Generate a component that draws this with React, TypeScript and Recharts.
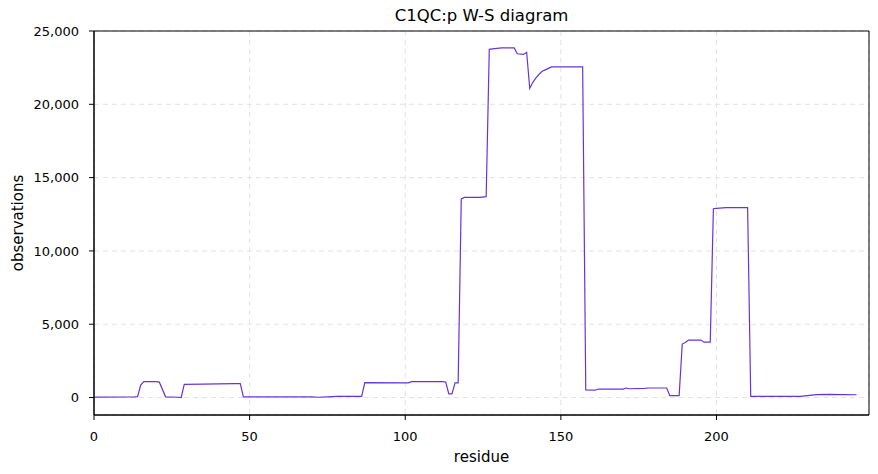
import { CartesianGrid, Label, Line, LineChart, ReferenceArea, XAxis, YAxis } from 'recharts'

const residues = [
  0, 13, 14, 15, 16, 20, 21, 23, 27, 28, 29, 35, 45, 47, 48, 60, 70, 72, 75, 78,
  86, 87, 101, 102, 112, 113, 114, 115, 116, 117, 118, 119, 124, 126, 127, 128,
  131, 135, 136, 138, 139, 140, 141, 142, 143, 144, 145, 146, 147, 157, 158, 161,
  162, 170, 171, 172, 177, 178, 184, 185, 188, 189, 190, 191, 195, 196, 198, 199,
  200, 203, 210, 211, 227, 230, 232, 236, 245,
]
const observations = [
  30, 40, 60, 850, 1080, 1080, 1050, 50, 20, 0, 900, 920, 950, 950, 50, 50, 40, 20, 50, 80,
  80, 1020, 1000, 1080, 1080, 1060, 250, 250, 1000, 1000, 13550, 13650, 13650, 13700, 23750, 23780,
  23850, 23850, 23450, 23400, 23550, 21090, 21500, 21800, 22050, 22250, 22350, 22450, 22550, 22550, 520, 500,
  580, 580, 650, 600, 620, 650, 650, 130, 130, 3650, 3750, 3920, 3920, 3780, 3780, 12880,
  12900, 12950, 12950, 80, 80, 150, 200, 210, 190,
]
const xTicks = [0, 50, 100, 150, 200]
const yTicks = [0, 5000, 10000, 15000, 20000, 25000]
const xDomain = [0, 249]
const yDomain = [-1190, 25000]

const data = residues.map((residue, i) => ({ residue, value: observations[i] }))

const font = 'DejaVu Sans, sans-serif'
const tickStyle = { fill: '#000', fontSize: 13, fontFamily: font }

export default function App() {
  return (
    <div style={{ position: 'absolute', left: 0, top: 0, width: 878, height: 474, background: '#fff' }}>
      <div
        style={{
          position: 'absolute',
          left: 94,
          width: 775,
          top: 6,
          textAlign: 'center',
          fontFamily: font,
          fontSize: 16.5,
          color: '#000',
        }}
      >
        C1QC:p W-S diagram
      </div>
      <LineChart width={878} height={474} data={data} margin={{ top: 31, right: 9, bottom: 0, left: 0 }}>
        <CartesianGrid stroke="#e2e2e2" strokeDasharray="5 4" vertical horizontal />
        <XAxis
          dataKey="residue"
          type="number"
          domain={xDomain}
          ticks={xTicks}
          allowDataOverflow
          height={59}
          tickSize={5}
          tickMargin={12}
          stroke="#000"
          tick={tickStyle}
          tickLine={{ stroke: '#000' }}
        >
          <Label
            content={() => (
              <text x={481.5} y={461.5} textAnchor="middle" fontSize={15} fontFamily={font} fill="#000">
                residue
              </text>
            )}
          />
        </XAxis>
        <YAxis
          type="number"
          domain={yDomain}
          ticks={yTicks}
          allowDataOverflow
          width={94}
          tickSize={5}
          tickMargin={10}
          stroke="#000"
          tick={tickStyle}
          tickLine={{ stroke: '#000' }}
          tickFormatter={(v: number) => v.toLocaleString('en-US')}
        >
          <Label
            content={() => (
              <text
                x={17.5}
                y={223}
                transform="rotate(-90 17.5 223)"
                textAnchor="middle"
                dominantBaseline="central"
                fontSize={15}
                fontFamily={font}
                fill="#000"
              >
                observations
              </text>
            )}
          />
        </YAxis>
        <ReferenceArea
          x1={xDomain[0]}
          x2={xDomain[1]}
          y1={yDomain[0]}
          y2={yDomain[1]}
          fill="none"
          stroke="#000"
          strokeWidth={1}
        />
        <Line
          type="linear"
          dataKey="value"
          stroke="#6634dd"
          strokeWidth={1.2}
          dot={false}
          isAnimationActive={false}
        />
      </LineChart>
    </div>
  )
}
